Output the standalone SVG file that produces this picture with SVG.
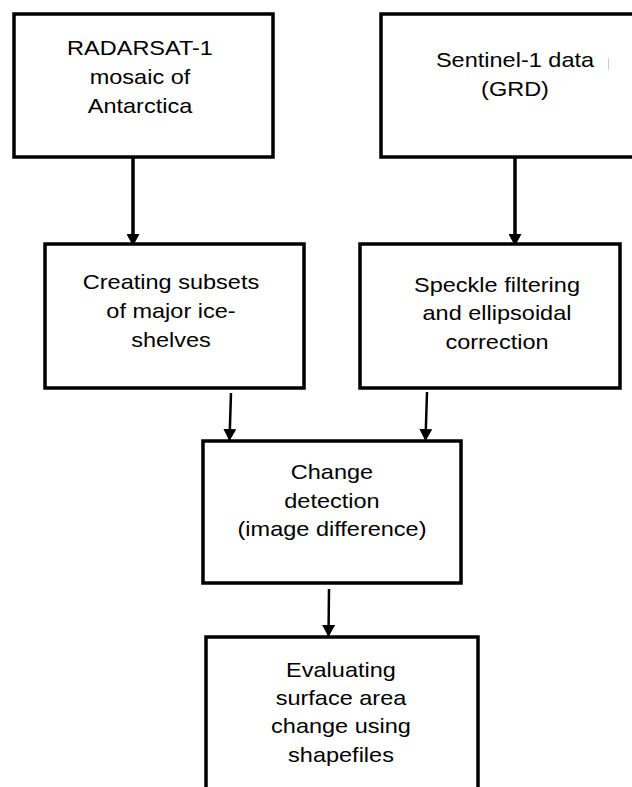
<svg xmlns="http://www.w3.org/2000/svg" width="632" height="787" viewBox="0 0 632 787">
<style>
.box{fill:#fff;stroke:#000;stroke-width:3.5}
.lbl{font-family:"Liberation Sans",Arial,sans-serif;font-size:21px;fill:#000;text-anchor:middle}
.conn{stroke:#000;fill:none}
.thick{stroke-width:3.5}
.thin{stroke-width:2.5}
</style>
<defs>
<marker id="ah" markerWidth="13" markerHeight="13" refX="11" refY="6.5" orient="auto" markerUnits="userSpaceOnUse">
<path d="M0,0 L12,6.5 L0,13 Z" fill="#000"/>
</marker>
</defs>
<rect width="632" height="787" fill="#fff"/>
<g id="connectors">
<line class="conn thick" x1="133" y1="157" x2="133" y2="245" marker-end="url(#ah)"/>
<line class="conn thick" x1="515" y1="157" x2="515" y2="245" marker-end="url(#ah)"/>
<line class="conn thin" x1="231" y1="393" x2="229.5" y2="440" marker-end="url(#ah)"/>
<line class="conn thin" x1="427" y1="392" x2="425.5" y2="440" marker-end="url(#ah)"/>
<line class="conn thin" x1="329" y1="589" x2="328.5" y2="636" marker-end="url(#ah)"/>
</g>
<g id="n1">
<rect class="box" x="14" y="14" width="259" height="143"/>
<text class="lbl" transform="translate(140,55) scale(1.12,1)">RADARSAT-1</text>
<text class="lbl" transform="translate(140,84) scale(1.12,1)">mosaic of</text>
<text class="lbl" transform="translate(140,113) scale(1.12,1)">Antarctica</text>
</g>
<g id="n2">
<rect class="box" x="381" y="14" width="270" height="143"/>
<text class="lbl" transform="translate(515,67) scale(1.12,1)">Sentinel-1 data</text>
<text class="lbl" transform="translate(515,96) scale(1.12,1)">(GRD)</text>
<line x1="608.5" y1="58" x2="608.5" y2="70" stroke="#ccc" stroke-width="1"/>
</g>
<g id="n3">
<rect class="box" x="45" y="244" width="259" height="144"/>
<text class="lbl" transform="translate(171,289) scale(1.12,1)">Creating subsets</text>
<text class="lbl" transform="translate(171,318) scale(1.12,1)">of major ice-</text>
<text class="lbl" transform="translate(171,347) scale(1.12,1)">shelves</text>
</g>
<g id="n4">
<rect class="box" x="360" y="244" width="260" height="144"/>
<text class="lbl" transform="translate(497,292) scale(1.12,1)">Speckle filtering</text>
<text class="lbl" transform="translate(497,320) scale(1.12,1)">and ellipsoidal</text>
<text class="lbl" transform="translate(497,349) scale(1.12,1)">correction</text>
</g>
<g id="n5">
<rect class="box" x="203" y="441" width="258" height="142"/>
<text class="lbl" transform="translate(332,479) scale(1.12,1)">Change</text>
<text class="lbl" transform="translate(332,508) scale(1.12,1)">detection</text>
<text class="lbl" transform="translate(332,536) scale(1.12,1)">(image difference)</text>
</g>
<g id="n6">
<rect class="box" x="206" y="637" width="272" height="170"/>
<text class="lbl" transform="translate(341,677) scale(1.12,1)">Evaluating</text>
<text class="lbl" transform="translate(341,705) scale(1.12,1)">surface area</text>
<text class="lbl" transform="translate(341,733) scale(1.12,1)">change using</text>
<text class="lbl" transform="translate(341,762) scale(1.12,1)">shapefiles</text>
</g>
</svg>
